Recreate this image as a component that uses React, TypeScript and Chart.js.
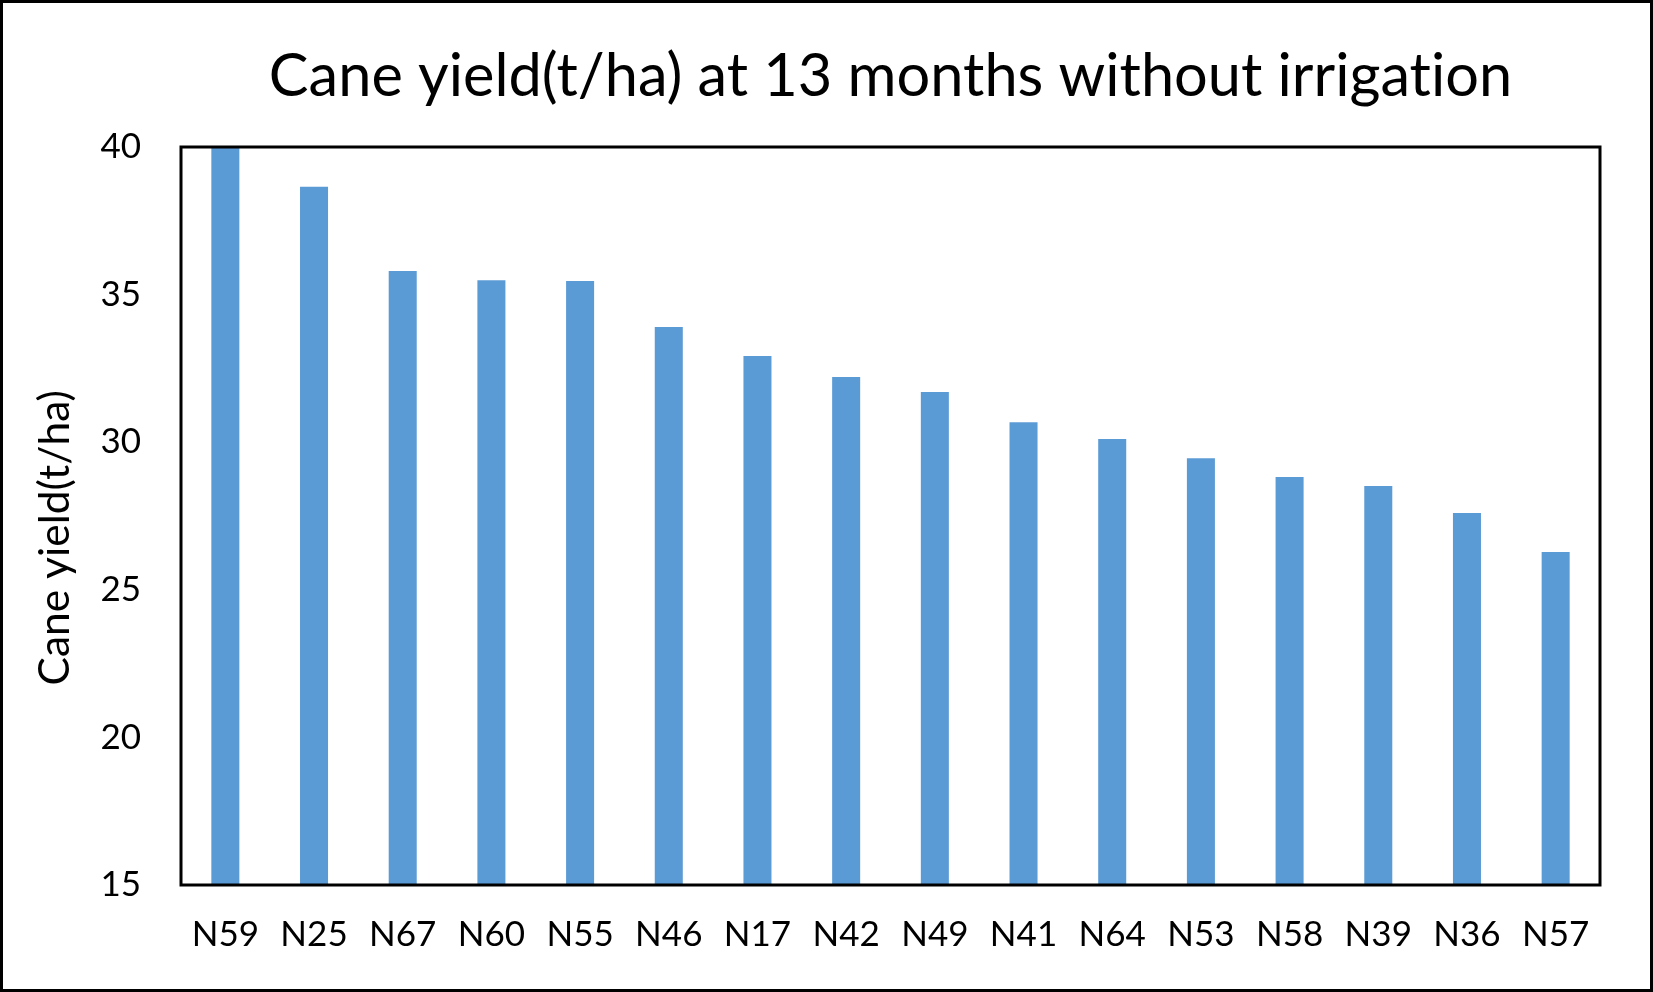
import React, { useEffect, useRef } from "react";
import { Chart, registerables } from "chart.js";

Chart.register(...registerables);

const categories = ["N59", "N25", "N67", "N60", "N55", "N46", "N17", "N42", "N49", "N41", "N64", "N53", "N58", "N39", "N36", "N57"];
const yieldValues = [40.0, 38.65, 35.8, 35.49, 35.46, 33.9, 32.92, 32.21, 31.7, 30.68, 30.11, 29.46, 28.82, 28.52, 27.6, 26.28];
const yTicks = [15, 20, 25, 30, 35, 40];
const chartTitle = "Cane yield(t/ha) at 13 months without irrigation";
const yAxisTitle = "Cane yield(t/ha)";

const W = 1653;
const H = 992;
const FONT = "Lato";

const framePlugin = {
  id: "frames",
  beforeDraw(chart: any) {
    const ctx = chart.ctx;
    try {
      (ctx as any).textRendering = "optimizeSpeed";
    } catch (e) {}
    ctx.save();
    ctx.fillStyle = "#ffffff";
    ctx.fillRect(0, 0, chart.width, chart.height);
    ctx.restore();
  },
  afterDraw(chart: any) {
    const ctx = chart.ctx;
    const a = chart.chartArea;
    ctx.save();
    ctx.strokeStyle = "#000000";
    ctx.lineWidth = 3;
    ctx.strokeRect(a.left, a.top, a.right - a.left, a.bottom - a.top);
    ctx.strokeRect(1.5, 1.5, chart.width - 3, chart.height - 3);
    ctx.restore();
  },
};

export default function App() {
  const ref = useRef<HTMLCanvasElement | null>(null);

  useEffect(() => {
    document.body.style.margin = "0";
    const canvas = ref.current;
    if (!canvas) return;
    const chart = new Chart(canvas, {
      type: "bar",
      data: {
        labels: categories,
        datasets: [
          {
            label: yAxisTitle,
            data: yieldValues,
            backgroundColor: "#5B9BD5",
            borderWidth: 0,
            barPercentage: 0.316,
            categoryPercentage: 1,
          },
        ],
      },
      options: {
        responsive: false,
        animation: false,
        devicePixelRatio: 1,
        layout: { padding: { left: 0, right: 53, top: 0, bottom: 0 } },
        plugins: {
          legend: { display: false },
          tooltip: { enabled: false },
          title: {
            display: true,
            text: chartTitle,
            color: "#000000",
            fullSize: false,
            font: { family: FONT, size: 59.5, weight: "normal" },
            padding: { top: 41, bottom: 34.6 },
          },
        },
        scales: {
          x: {
            grid: { display: false, drawTicks: false },
            border: { display: false },
            ticks: {
              color: "#000000",
              font: { family: FONT, size: 35 },
              padding: 29,
              maxRotation: 0,
              autoSkip: false,
            },
            afterFit(scale: any) {
              scale.height = 107;
            },
          },
          y: {
            min: yTicks[0],
            max: yTicks[yTicks.length - 1],
            grid: { display: false, drawTicks: false },
            border: { display: false },
            ticks: {
              stepSize: yTicks[1] - yTicks[0],
              color: "#000000",
              font: { family: FONT, size: 35 },
              padding: 40,
            },
            title: {
              display: true,
              text: yAxisTitle + "    ",
              color: "#000000",
              font: { family: FONT, size: 42.5 },
              padding: { top: 30, bottom: 0 },
            },
            afterFit(scale: any) {
              scale.width = 181;
            },
          },
        },
      },
      plugins: [framePlugin],
    });
    return () => chart.destroy();
  }, []);

  return (
    <div style={{ width: W, height: H }}>
      <canvas ref={ref} width={W} height={H} style={{ display: "block", width: W, height: H }} />
    </div>
  );
}
